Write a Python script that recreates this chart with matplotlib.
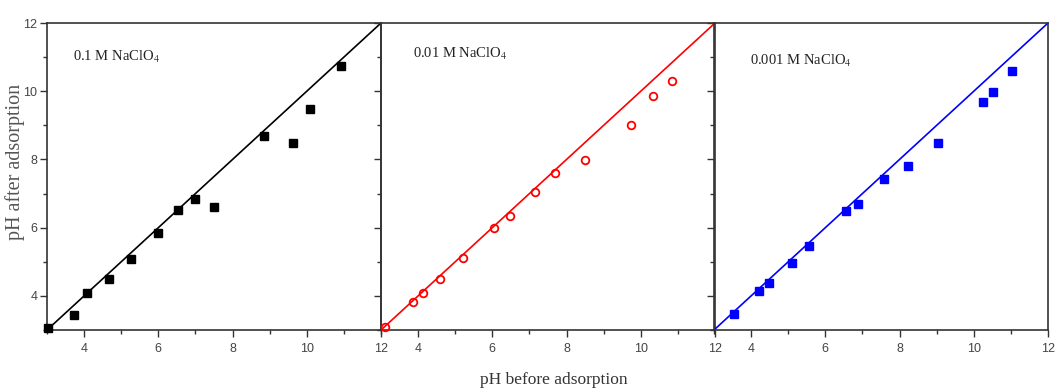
import matplotlib
matplotlib.use("Agg")
import matplotlib.pyplot as plt
from matplotlib.ticker import MultipleLocator

plt.rcParams["mathtext.fontset"] = "stix"

# ---- data ----
labels = ["0.1 M NaClO$_4$", "0.01 M NaClO$_4$", "0.001 M NaClO$_4$"]

x_01 = [3.04, 3.73, 4.09, 4.68, 5.26, 5.98, 6.52, 6.99, 7.50, 8.85, 9.62, 10.10, 10.91]
y_01 = [3.05, 3.44, 4.08, 4.49, 5.08, 5.84, 6.52, 6.85, 6.61, 8.70, 8.48, 9.48, 10.73]

x_001 = [3.11, 3.87, 4.12, 4.59, 5.20, 6.05, 6.47, 7.15, 7.69, 8.51, 9.74, 10.32, 10.83]
y_001 = [3.08, 3.81, 4.08, 4.50, 5.12, 5.98, 6.35, 7.05, 7.61, 7.99, 9.01, 9.86, 10.30]

x_0001 = [3.55, 4.22, 4.47, 5.11, 5.56, 6.57, 6.87, 7.59, 8.22, 9.03, 10.25, 10.53, 11.03]
y_0001 = [3.46, 4.14, 4.37, 4.96, 5.46, 6.50, 6.69, 7.42, 7.80, 8.48, 9.67, 9.97, 10.60]

line_x = [3, 12]
line_y = [3, 12]

colors = ["black", "red", "blue"]
text_pos = [(3.7, 11.0), (3.86, 11.1), (3.97, 10.9)]

series = [(x_01, y_01), (x_001, y_001), (x_0001, y_0001)]

serif = ["Liberation Serif", "DejaVu Serif"]
narrow = ["Liberation Sans Narrow", "Liberation Sans", "DejaVu Sans"]

fig = plt.figure(figsize=(10.55, 3.92), dpi=100)
lefts = [47 / 1055, 381 / 1055, 714 / 1055]
w = 334 / 1055
b = 1 - 330 / 392
h = (330 - 23) / 392

for i in range(3):
    ax = fig.add_axes([lefts[i], b, w, h])
    xs, ys = series[i]
    c = colors[i]
    ax.plot(line_x, line_y, color=c, lw=1.2, zorder=2)
    if i == 1:
        ax.plot(xs, ys, linestyle="none", marker="o", markersize=5.5,
                markerfacecolor="none", markeredgecolor=c, markeredgewidth=1.3,
                zorder=3, clip_on=False)
    else:
        ax.plot(xs, ys, linestyle="none", marker="s", markersize=6,
                color=c, zorder=3, clip_on=False)
    ax.set_xlim(3, 12)
    ax.set_ylim(3, 12)
    ax.xaxis.set_major_locator(MultipleLocator(2))
    ax.xaxis.set_minor_locator(MultipleLocator(1))
    ax.yaxis.set_major_locator(MultipleLocator(2))
    ax.yaxis.set_minor_locator(MultipleLocator(1))
    ax.tick_params(which="major", direction="out", length=5, width=1.0, color="#333333")
    ax.tick_params(which="minor", direction="out", length=3, width=1.0, color="#333333")
    ax.tick_params(axis="both", labelsize=9, labelcolor="#444444")
    ax.tick_params(axis="y", pad=2)
    ax.tick_params(axis="x", pad=4)
    for lab in ax.get_xticklabels() + ax.get_yticklabels():
        lab.set_fontfamily(narrow)
    if i > 0:
        ax.tick_params(axis="y", labelleft=False)
    for s in ax.spines.values():
        s.set_linewidth(1.2)
        s.set_color("#333333")
    tx, ty = text_pos[i]
    ax.text(tx, ty, labels[i], fontsize=10.5, family=serif, color="#222222",
            va="center", ha="left")
    ax.set_facecolor("none")

fig.text(15 / 1055, 1 - 162 / 392, "pH after adsorption", rotation=90,
         ha="center", va="center", fontsize=14.5, family=serif, color="#555555")
fig.text(554 / 1055, 1 - 380 / 392, "pH before adsorption",
         ha="center", va="center", fontsize=12.5, family=serif, color="#333333")

fig.savefig("out.png", dpi=100)
